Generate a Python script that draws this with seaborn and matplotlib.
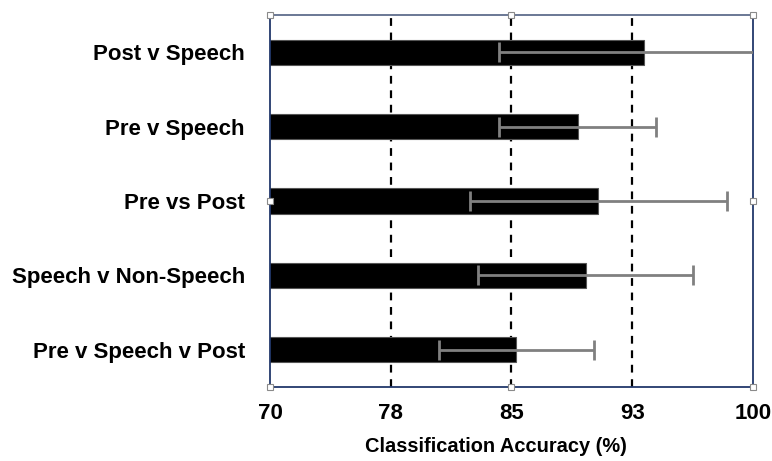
import matplotlib
matplotlib.use("Agg")
import matplotlib.pyplot as plt
import seaborn as sns
import pandas as pd

# Classification accuracy per comparison (mean and error half-width, %)
comparisons = ["Post v Speech", "Pre v Speech", "Pre vs Post",
               "Speech v Non-Speech", "Pre v Speech v Post"]
accuracy = [93.2, 89.1, 90.4, 89.6, 85.3]
error = [9.0, 4.9, 8.0, 6.7, 4.8]

tick_values = [70, 77.5, 85, 92.5, 100]
tick_labels = ["70", "78", "85", "93", "100"]
ref_lines = [77.5, 85, 92.5]

sns.set_theme(style="white")
plt.rcParams["font.family"] = ["Liberation Sans", "DejaVu Sans"]
plt.rcParams["text.color"] = "black"
plt.rcParams["xtick.color"] = "black"
plt.rcParams["ytick.color"] = "black"
plt.rcParams["axes.labelcolor"] = "black"

df = pd.DataFrame({"comparison": comparisons, "accuracy": accuracy, "error": error})

fig = plt.figure(figsize=(7.72, 4.61), dpi=100)
ax = fig.add_axes([0.3497, 0.1605, 0.6257, 0.807])

for xv in ref_lines:
    ax.axvline(xv, color="black", lw=1.6, ls=(0, (3.5, 3.0)), zorder=1)

sns.barplot(data=df, y="comparison", x="accuracy", orient="h", color="black",
            edgecolor="#555555", linewidth=0.8, width=0.34, ax=ax, zorder=2,
            saturation=1)

ax.errorbar(df["accuracy"], range(len(comparisons)), xerr=df["error"],
            fmt="none", ecolor="#808080", elinewidth=2.0, capsize=7.5,
            capthick=2.0, zorder=3)

ax.set_xlim(70, 100)
ax.set_ylim(len(comparisons) - 0.5, -0.5)
ax.set_xticks(tick_values)
ax.set_xticklabels(tick_labels)
ax.tick_params(axis="both", length=0, labelsize=16, labelcolor="black")
ax.tick_params(axis="x", pad=11.5)
ax.tick_params(axis="y", pad=18)
for lbl in ax.get_xticklabels() + ax.get_yticklabels():
    lbl.set_fontweight("bold")
ax.set_ylabel("")
ax.set_xlabel("Classification Accuracy (%)", fontsize=14.4, fontweight="bold",
              color="black")
ax.xaxis.set_label_coords(0.468, -0.135)

for side in ["left", "bottom", "right"]:
    ax.spines[side].set_color("#22386b")
    ax.spines[side].set_linewidth(1.3)
ax.spines["top"].set_color("#5f6d8c")
ax.spines["top"].set_linewidth(1.3)

# Selection handles on the frame
hx = [0, 0.5, 1, 0, 1, 0, 0.5, 1]
hy = [0, 0, 0, 0.5, 0.5, 1, 1, 1]
ax.plot(hx, hy, ls="none", marker="s", ms=4.5, mfc="white", mec="#8a8a8a",
        mew=0.8, transform=ax.transAxes, clip_on=False, zorder=5)

fig.savefig("out.png", dpi=100)
